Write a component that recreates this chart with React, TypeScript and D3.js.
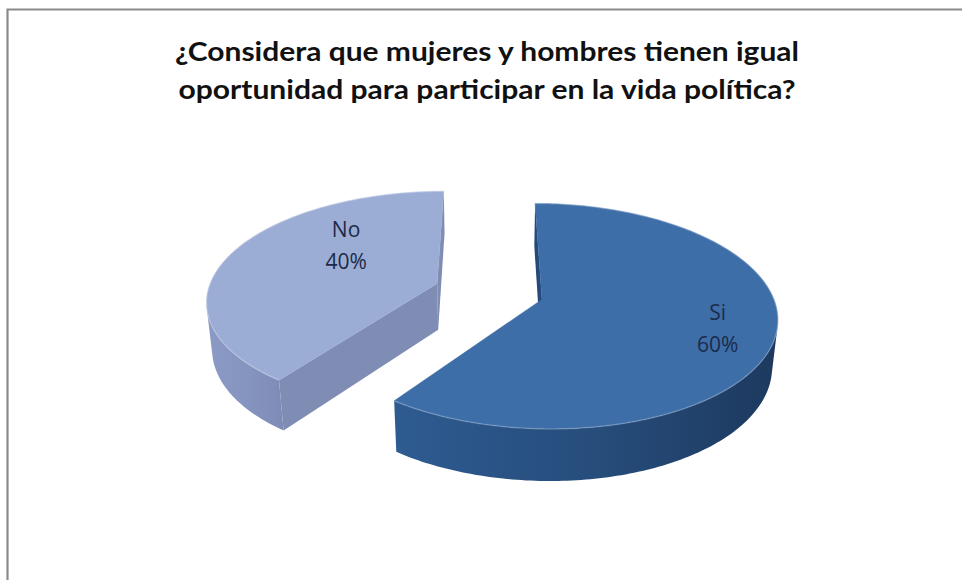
import React from "react";
import * as d3 from "d3";

const titleLines = [
  "¿Considera que mujeres y hombres tienen igual",
  "oportunidad  para participar en la vida política?",
];
const categories = ["Si", "No"];
const values = [60, 40];

const W = 962;
const H = 580;

// 3D projection settings
const ELEV = (30 * Math.PI) / 180;
const DIST = 6;
const FOCAL = 1350;
const CX = 489;
const CY = 338;
const RAD = 1;
const THICK = 0.235;
const EXPLODE = 0.24;

const topColors: Record<string, string> = { Si: "#3e6ea8", No: "#9cadd5" };
const wallLight: Record<string, string> = { Si: "#2e5b91", No: "#8b9bc6" };
const wallDark: Record<string, string> = { Si: "#1d395e", No: "#7d8bb6" };
const radialColors: Record<string, string> = { Si: "#24497a", No: "#7f8cb4" };
const labelColors: Record<string, string> = { Si: "#1a2c4c", No: "#1c2946" };

type V3 = [number, number, number];

function project(p: V3): [number, number, number] {
  const [x, y, z] = p;
  const v = z * Math.sin(ELEV) - y * Math.cos(ELEV);
  const w = DIST - z * Math.cos(ELEV) - y * Math.sin(ELEV);
  return [CX + (FOCAL * x) / w, CY + (FOCAL * v) / w, w];
}

const CAM: V3 = [0, DIST * Math.sin(ELEV), DIST * Math.cos(ELEV)];

function visible(n: V3, p: V3) {
  return n[0] * (CAM[0] - p[0]) + n[1] * (CAM[1] - p[1]) + n[2] * (CAM[2] - p[2]) > 0;
}

function polyPath(pts: V3[]) {
  const path = d3.path();
  pts.forEach((p, i) => {
    const [sx, sy] = project(p);
    if (i === 0) path.moveTo(sx, sy);
    else path.lineTo(sx, sy);
  });
  path.closePath();
  return path.toString();
}

export default function App() {
  const arcs = d3.pie<number>().sort(null)(values);

  const slices = arcs.map((a, i) => {
    const cat = categories[i];
    const s0 = a.startAngle;
    const s1 = a.endAngle;
    const mid = (s0 + s1) / 2;
    const ox = EXPLODE * Math.sin(mid);
    const oz = -EXPLODE * Math.cos(mid);
    const P = (t: number, r: number, y: number): V3 => [ox + r * Math.sin(t), y, oz - r * Math.cos(t)];

    const walls: { d: string; depth: number; fill: string }[] = [];

    // outer wall: contiguous visible runs merged into single paths
    const n = Math.ceil((s1 - s0) / (Math.PI / 180));
    const vis: boolean[] = [];
    for (let k = 0; k < n; k++) {
      const tm = s0 + ((s1 - s0) * (k + 0.5)) / n;
      const nrm: V3 = [Math.sin(tm), 0, -Math.cos(tm)];
      vis.push(visible(nrm, P(tm, RAD, THICK / 2)));
    }
    let xmin = Infinity;
    let xmax = -Infinity;
    const runs: [number, number][] = [];
    let k = 0;
    while (k < n) {
      if (!vis[k]) {
        k++;
        continue;
      }
      let j = k;
      while (j < n && vis[j]) j++;
      runs.push([k, j]);
      k = j;
    }
    runs.forEach(([k0, k1]) => {
      const pts: V3[] = [];
      for (let q = k0; q <= k1; q++) pts.push(P(s0 + ((s1 - s0) * q) / n, RAD, THICK));
      for (let q = k1; q >= k0; q--) pts.push(P(s0 + ((s1 - s0) * q) / n, RAD, 0));
      pts.forEach((p) => {
        const [sx] = project(p);
        xmin = Math.min(xmin, sx);
        xmax = Math.max(xmax, sx);
      });
      const tmid = s0 + ((s1 - s0) * (k0 + k1)) / 2 / n;
      walls.push({ d: polyPath(pts), depth: project(P(tmid, RAD, THICK / 2))[2], fill: `url(#wall-${cat})` });
    });

    // radial walls
    const radial = [
      { t: s0, nt: s0 - Math.PI / 2 },
      { t: s1, nt: s1 + Math.PI / 2 },
    ];
    radial.forEach(({ t, nt }) => {
      const nrm: V3 = [Math.sin(nt), 0, -Math.cos(nt)];
      const pm = P(t, RAD / 2, THICK / 2);
      if (!visible(nrm, pm)) return;
      const pts = [P(0, 0, THICK), P(t, RAD, THICK), P(t, RAD, 0), P(0, 0, 0)];
      walls.push({ d: polyPath(pts), depth: project(pm)[2], fill: radialColors[cat] });
    });
    walls.sort((p, q) => q.depth - p.depth);

    // top face
    const topPts: V3[] = [P(0, 0, THICK)];
    const m = Math.ceil((s1 - s0) / (Math.PI / 180));
    for (let q = 0; q <= m; q++) topPts.push(P(s0 + ((s1 - s0) * q) / m, RAD, THICK));
    const topD = polyPath(topPts);

    // edge highlight along rim
    const rim = d3.path();
    for (let q = 0; q <= m; q++) {
      const [sx, sy] = project(P(s0 + ((s1 - s0) * q) / m, RAD, THICK));
      if (q === 0) rim.moveTo(sx, sy);
      else rim.lineTo(sx, sy);
    }

    // label position
    const lt = cat === "No" ? mid + (25 * Math.PI) / 180 : mid;
    const lr = cat === "No" ? 0.6 : 0.76;
    const [lx, ly] = project(P(lt, lr, THICK));

    return {
      cat,
      value: a.value,
      walls,
      topD,
      rimD: rim.toString(),
      lx,
      ly,
      xmin,
      xmax,
      depth: project(P(mid, 0, 0))[2],
    };
  });

  slices.sort((p, q) => q.depth - p.depth);
  const total = d3.sum(values);

  return (
    <svg
      width={W}
      height={H}
      style={{ position: "absolute", left: 0, top: 0, background: "#ffffff" }}
    >
      <defs>
        {slices.map((s) => (
          <linearGradient
            key={s.cat}
            id={`wall-${s.cat}`}
            gradientUnits="userSpaceOnUse"
            x1={s.xmin}
            y1={0}
            x2={s.xmax}
            y2={0}
          >
            <stop offset="0%" stopColor={wallLight[s.cat]} />
            <stop offset="55%" stopColor={d3.interpolateRgb(wallLight[s.cat], wallDark[s.cat])(0.45)} />
            <stop offset="100%" stopColor={wallDark[s.cat]} />
          </linearGradient>
        ))}
      </defs>
      <rect x={0} y={0} width={W} height={H} fill="#ffffff" />
      <path d={`M7.5,${H} L7.5,9.5 L${W},9.5`} fill="none" stroke="#8a8a8a" strokeWidth={2.2} />
      {titleLines.map((t, i) => (
        <text
          key={i}
          x={487}
          y={61 + i * 38}
          textAnchor="middle"
          fontFamily="Lato, 'Open Sans', sans-serif"
          fontWeight="bold"
          fontSize={27}
          fill="#111111"
          textLength={i === 0 ? 624 : 617}
          lengthAdjust="spacingAndGlyphs"
        >
          {t}
        </text>
      ))}
      {slices.map((s) => (
        <g key={s.cat}>
          {s.walls.map((w, i) => (
            <path key={i} d={w.d} fill={w.fill} stroke="none" />
          ))}
          <path d={s.topD} fill={topColors[s.cat]} stroke={topColors[s.cat]} strokeWidth={0.5} />
          <path d={s.rimD} fill="none" stroke="#ffffff" strokeOpacity={0.2} strokeWidth={1.5} />
          <text
            x={s.lx}
            y={s.ly - 6}
            textAnchor="middle"
            fontFamily="'Open Sans', 'Liberation Sans', sans-serif"
            fontSize={21}
            fill={labelColors[s.cat]}
          >
            {s.cat}
          </text>
          <text
            x={s.lx}
            y={s.ly + 26}
            textAnchor="middle"
            fontFamily="'Open Sans', 'Liberation Sans', sans-serif"
            fontSize={21}
            fill={labelColors[s.cat]}
          >
            {`${Math.round((s.value / total) * 100)}%`}
          </text>
        </g>
      ))}
    </svg>
  );
}
